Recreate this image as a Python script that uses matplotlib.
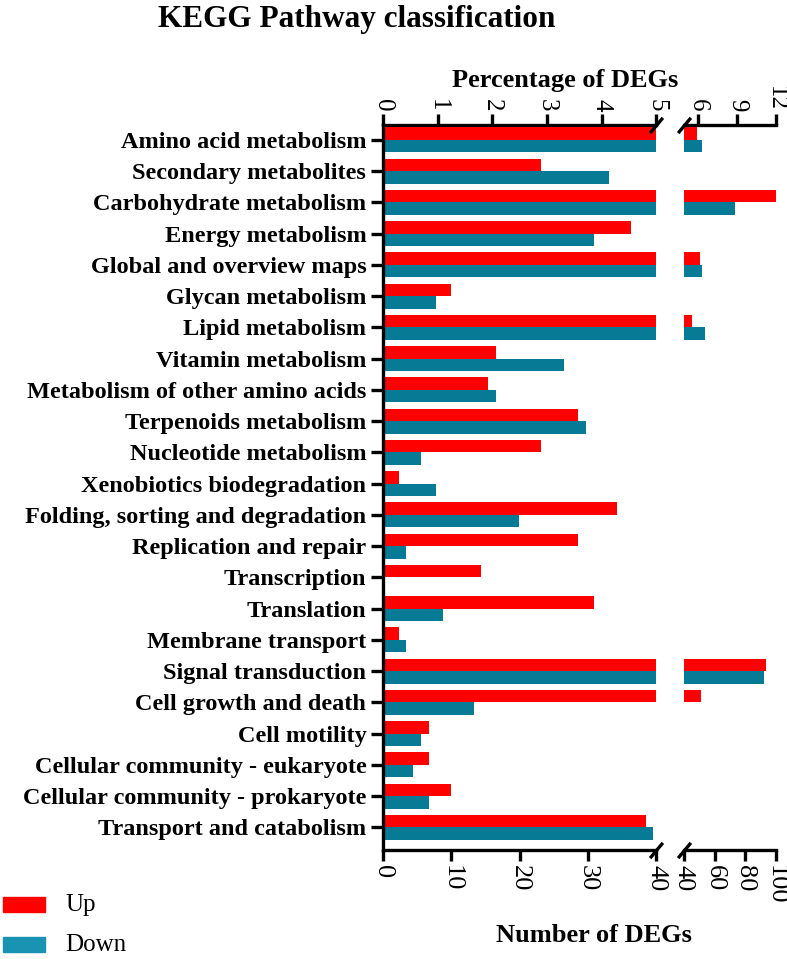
import matplotlib
matplotlib.use("Agg")
import matplotlib.pyplot as plt
import numpy as np

plt.rcParams['font.family'] = ['Liberation Serif', 'DejaVu Serif']

# categories, top to bottom
pathways = [
    "Amino acid metabolism", "Secondary metabolites", "Carbohydrate metabolism",
    "Energy metabolism", "Global and overview maps", "Glycan metabolism",
    "Lipid metabolism", "Vitamin metabolism", "Metabolism of other amino acids",
    "Terpenoids metabolism", "Nucleotide metabolism", "Xenobiotics biodegradation",
    "Folding, sorting and degradation", "Replication and repair", "Transcription",
    "Translation", "Membrane transport", "Signal transduction",
    "Cell growth and death", "Cell motility", "Cellular community - eukaryote",
    "Cellular community - prokaryote", "Transport and catabolism",
]

# number of DEGs
up = [48.5, 23.2, 100, 36.3, 50.5, 10.0, 45, 16.6, 15.4, 28.6, 23.2, 2.3,
      34.2, 28.6, 14.3, 30.9, 2.3, 93.6, 51, 6.8, 6.8, 10.0, 38.5]
down = [51.8, 33.1, 73, 30.9, 51.8, 7.7, 53.7, 26.5, 16.6, 29.8, 5.6, 7.7,
        19.9, 3.4, 0, 8.8, 3.4, 92.3, 13.3, 5.6, 4.4, 6.8, 39.6]

red = '#ff0000'
blue = '#077b95'
lw = 2.4

fig = plt.figure(figsize=(7.87, 9.59), dpi=100)
ax1 = fig.add_axes([0.4867, 0.1137, 0.347, 0.756])
ax2 = fig.add_axes([0.869, 0.1137, 0.117, 0.756])

y = np.arange(len(pathways))
h = 0.4
for ax in (ax1, ax2):
    ax.barh(y - h / 2, up, height=h, color=red, edgecolor='none')
    ax.barh(y + h / 2, down, height=h, color=blue, edgecolor='none')
    ax.set_ylim(len(pathways) - 1 + 0.72, -0.48)
    for s in ax.spines.values():
        s.set_linewidth(lw)
    ax.spines['right'].set_visible(False)
    ax.spines['top'].set_visible(False)
    ax.tick_params(axis='x', direction='out', length=8, width=lw,
                   labelsize=19, labelrotation=-90, pad=3)

ax1.set_xlim(0, 40)
ax1.set_xticks([0, 10, 20, 30, 40])
ax1.set_yticks(y)
ax1.set_yticklabels(pathways, fontsize=17.5, fontweight='bold')
ax1.tick_params(axis='y', direction='out', length=9, width=lw, pad=3)

ax2.set_xlim(40, 100)
ax2.set_xticks([40, 60, 80, 100])
ax2.spines['left'].set_visible(False)
ax2.set_yticks([])

# percentage axes on top
top1 = ax1.secondary_xaxis('top', functions=(lambda x: x / 8.0, lambda p: p * 8.0))
top1.set_xticks([0, 1, 2, 3, 4, 5])
top2 = ax2.secondary_xaxis('top', functions=(lambda x: 4.9 + (x - 40) * 7.1 / 60,
                                              lambda p: 40 + (p - 4.9) * 60 / 7.1))
top2.set_xticks([6, 9, 12])
for t in (top1, top2):
    t.spines['top'].set_linewidth(lw)
    t.tick_params(axis='x', direction='out', length=8, width=lw,
                  labelsize=18, labelrotation=-90, pad=2)

# break marks
kw = dict(marker=[(-1, -1.2), (1, 1.2)], markersize=11, linestyle='none',
          color='k', mec='k', mew=lw, clip_on=False)
ax1.plot([1, 1], [0, 1], transform=ax1.transAxes, **kw)
ax2.plot([0, 0], [0, 1], transform=ax2.transAxes, **kw)

fig.text(357 / 787, 1 - 20 / 959, "KEGG Pathway classification", fontsize=22.5,
         fontweight='bold', ha='center', va='center')
fig.text(565 / 787, 1 - 81 / 959, "Percentage of DEGs", fontsize=19,
         fontweight='bold', ha='center', va='center')
fig.text(594 / 787, 1 - 935 / 959, "Number of DEGs", fontsize=19,
         fontweight='bold', ha='center', va='center')

# legend
fig.patches.append(plt.Rectangle((3 / 787, 1 - 912 / 959), 42 / 787, 15 / 959,
                                 transform=fig.transFigure, color=red))
fig.patches.append(plt.Rectangle((3 / 787, 1 - 952 / 959), 42 / 787, 15 / 959,
                                 transform=fig.transFigure, color='#1a93b3'))
fig.text(65 / 787, 1 - 905 / 959, "Up", fontsize=18, va='center')
fig.text(65 / 787, 1 - 945 / 959, "Down", fontsize=18, va='center')

fig.savefig("out.png", dpi=100)
